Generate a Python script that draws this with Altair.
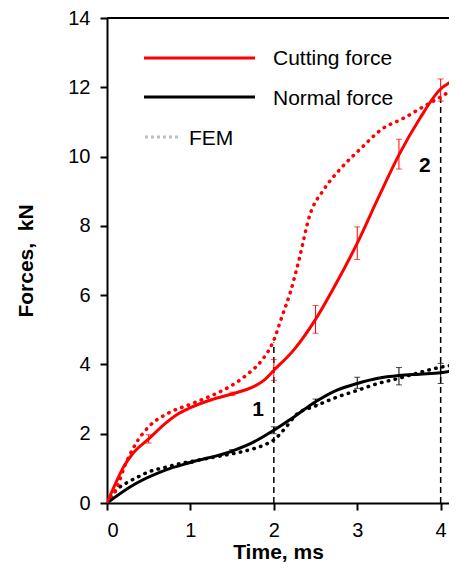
import altair as alt
import pandas as pd

# ---- data ----
cut_t = [0, 0.1, 0.2, 0.3, 0.5, 0.7, 0.85, 1.0, 1.25, 1.5, 1.75, 1.88, 2.0, 2.25, 2.5, 2.75, 3.0, 3.25, 3.5, 3.75, 4.0, 4.12]
cut_f = [0, 0.55, 1.05, 1.4, 1.85, 2.3, 2.57, 2.75, 2.98, 3.15, 3.35, 3.54, 3.83, 4.45, 5.3, 6.35, 7.5, 8.8, 10.05, 11.1, 11.95, 12.15]

cut_fem_t = [0, 0.12, 0.21, 0.33, 0.5, 0.74, 1.0, 1.3, 1.5, 1.7, 1.85, 2.0, 2.1, 2.2, 2.3, 2.43, 2.6, 2.8, 3.05, 3.3, 3.55, 3.8, 4.0, 4.12]
cut_fem_f = [0, 0.45, 1.05, 1.65, 2.2, 2.6, 2.85, 3.15, 3.4, 3.75, 4.1, 4.7, 5.4, 6.1, 7.0, 8.3, 9.05, 9.65, 10.25, 10.8, 11.1, 11.45, 11.72, 11.9]

norm_t = [0, 0.3, 0.7, 1.0, 1.5, 1.75, 2.0, 2.25, 2.5, 2.75, 3.0, 3.25, 3.5, 3.75, 4.0, 4.12]
norm_f = [0, 0.5, 0.95, 1.17, 1.5, 1.75, 2.1, 2.5, 2.92, 3.25, 3.45, 3.6, 3.68, 3.72, 3.76, 3.8]

norm_fem_t = [0, 0.11, 0.25, 0.37, 0.5, 0.7, 0.9, 1.1, 1.3, 1.5, 1.7, 1.88, 2.0, 2.15, 2.27, 2.5, 2.75, 3.0, 3.25, 3.5, 3.75, 4.0, 4.12]
norm_fem_f = [0, 0.37, 0.6, 0.75, 0.9, 1.03, 1.15, 1.24, 1.33, 1.42, 1.53, 1.67, 1.82, 2.2, 2.55, 2.8, 3.05, 3.25, 3.45, 3.6, 3.77, 3.92, 3.97]

cut_err_t = [0.5, 1.5, 2.0, 2.5, 3.0, 3.5, 4.0]
cut_err_mid = [1.85, 3.15, 3.84, 5.3, 7.5, 10.07, 11.92]
cut_err_half = [0.12, 0.05, 0.3, 0.4, 0.47, 0.43, 0.32]

norm_err_t = [1.0, 1.5, 2.0, 2.5, 3.0, 3.5, 4.0]
norm_err_mid = [1.17, 1.5, 2.1, 2.92, 3.47, 3.66, 3.74]
norm_err_half = [0.03, 0.04, 0.1, 0.08, 0.16, 0.25, 0.29]

dash_t = [2, 4]
dash_top = [4.63, 11.7]

label_t = [1.81, 3.81]
label_f = [2.68, 9.74]
label_txt = ["1", "2"]

legend_labels = ["Cutting force", "Normal force", "FEM"]

FONT = "Liberation Sans"
RED = "#ff0000"
PLOT_W = 342
PLOT_H = 485

# ---- tables ----
cut = pd.DataFrame({"t": cut_t, "f": cut_f})
cut_fem = pd.DataFrame({"t": cut_fem_t, "f": cut_fem_f})
norm = pd.DataFrame({"t": norm_t, "f": norm_f})
norm_fem = pd.DataFrame({"t": norm_fem_t, "f": norm_fem_f})
cut_err = pd.DataFrame({"t": cut_err_t,
                        "lo": [m - h for m, h in zip(cut_err_mid, cut_err_half)],
                        "hi": [m + h for m, h in zip(cut_err_mid, cut_err_half)]})
norm_err = pd.DataFrame({"t": norm_err_t,
                         "lo": [m - h for m, h in zip(norm_err_mid, norm_err_half)],
                         "hi": [m + h for m, h in zip(norm_err_mid, norm_err_half)]})
dash = pd.DataFrame({"t": dash_t, "bot": [0, 0], "top": dash_top})
labels = pd.DataFrame({"t": label_t, "f": label_f, "txt": label_txt})

xs = alt.Scale(domain=[0, 4.1], nice=False, zero=False)
ys = alt.Scale(domain=[0, 14], nice=False)

x_axis = alt.Axis(values=[0, 1, 2, 3, 4], format="d", title="Time, ms", grid=False,
                  tickSize=7, tickWidth=2, tickColor="black", domainWidth=2, domainColor="black",
                  labelFont=FONT, labelFontSize=20, labelColor="black", labelPadding=10,
                  titleFont=FONT, titleFontSize=21, titleFontWeight="bold", titleColor="black",
                  titlePadding=1)
y_axis = alt.Axis(values=list(range(0, 15, 2)), title="Forces,\u00a0 kN", grid=False,
                  tickSize=7, tickWidth=2, tickColor="black", domainWidth=2, domainColor="black",
                  labelFont=FONT, labelFontSize=20, labelColor="black", labelPadding=10,
                  titleFont=FONT, titleFontSize=21, titleFontWeight="bold", titleColor="black",
                  titlePadding=31)

X = alt.X("t:Q", scale=xs, axis=x_axis)
Y = alt.Y("f:Q", scale=ys, axis=y_axis)

dotted = dict(strokeDash=[0.5, 6.5], strokeCap="round", strokeWidth=3.5, interpolate="monotone", clip=True)

layers = [
    alt.Chart(dash).mark_rule(color="black", strokeWidth=1.5, strokeDash=[6, 4]).encode(
        x=X, y=alt.Y("bot:Q", scale=ys, axis=y_axis), y2="top:Q"),
    alt.Chart(norm_fem).mark_line(color="black", **dotted).encode(x=X, y=Y),
    alt.Chart(cut_fem).mark_line(color=RED, **dotted).encode(x=X, y=Y),
    alt.Chart(norm).mark_line(color="black", strokeWidth=3, interpolate="monotone", clip=True).encode(x=X, y=Y),
    alt.Chart(cut).mark_line(color=RED, strokeWidth=3, interpolate="monotone", clip=True).encode(x=X, y=Y),
    alt.Chart(cut_err).mark_rule(color=RED, strokeWidth=1).encode(
        x=X, y=alt.Y("lo:Q", scale=ys, axis=y_axis), y2="hi:Q"),
    alt.Chart(cut_err).mark_tick(color=RED, thickness=1, size=6, orient="horizontal").encode(
        x=X, y=alt.Y("lo:Q", scale=ys, axis=y_axis)),
    alt.Chart(cut_err).mark_tick(color=RED, thickness=1, size=6, orient="horizontal").encode(
        x=X, y=alt.Y("hi:Q", scale=ys, axis=y_axis)),
    alt.Chart(norm_err).mark_rule(color="black", strokeWidth=1).encode(
        x=X, y=alt.Y("lo:Q", scale=ys, axis=y_axis), y2="hi:Q"),
    alt.Chart(norm_err).mark_tick(color="black", thickness=1, size=6, orient="horizontal").encode(
        x=X, y=alt.Y("lo:Q", scale=ys, axis=y_axis)),
    alt.Chart(norm_err).mark_tick(color="black", thickness=1, size=6, orient="horizontal").encode(
        x=X, y=alt.Y("hi:Q", scale=ys, axis=y_axis)),
    alt.Chart(labels).mark_text(font=FONT, fontSize=21, fontWeight="bold", color="black",
                                baseline="middle").encode(x=X, y=Y, text="txt:N"),
    # top frame line
    alt.Chart(labels).mark_rule(color="black", strokeWidth=2).encode(
        x=alt.value(0), x2=alt.value(PLOT_W), y=alt.value(0)),
]

# legend (drawn manually, inside the plot)
leg = pd.DataFrame({"lab": legend_labels})
txt = dict(font=FONT, fontSize=21, align="left", baseline="alphabetic", color="black")
legend_layers = [
    alt.Chart(leg.iloc[[0]]).mark_rule(color=RED, strokeWidth=3).encode(
        x=alt.value(37), x2=alt.value(148), y=alt.value(40)),
    alt.Chart(leg.iloc[[1]]).mark_rule(color="black", strokeWidth=3).encode(
        x=alt.value(37), x2=alt.value(148), y=alt.value(79)),
    alt.Chart(leg.iloc[[2]]).mark_rule(color="#bfbfbf", strokeWidth=3, strokeDash=[3, 3]).encode(
        x=alt.value(38), x2=alt.value(71), y=alt.value(119)),
    alt.Chart(leg.iloc[[0]]).mark_text(**txt).encode(x=alt.value(166), y=alt.value(47), text="lab:N"),
    alt.Chart(leg.iloc[[1]]).mark_text(**txt).encode(x=alt.value(166), y=alt.value(87), text="lab:N"),
    alt.Chart(leg.iloc[[2]]).mark_text(**txt).encode(x=alt.value(82), y=alt.value(127), text="lab:N"),
]

chart = alt.layer(*layers, *legend_layers).properties(
    width=PLOT_W, height=PLOT_H,
    autosize=alt.AutoSizeParams(type="none"),
    padding={"left": 99, "top": 10, "right": 0, "bottom": 60},
).configure_view(stroke=None).configure(background="white")

chart.save("out.html", embed_options={"renderer": "svg", "actions": False})
